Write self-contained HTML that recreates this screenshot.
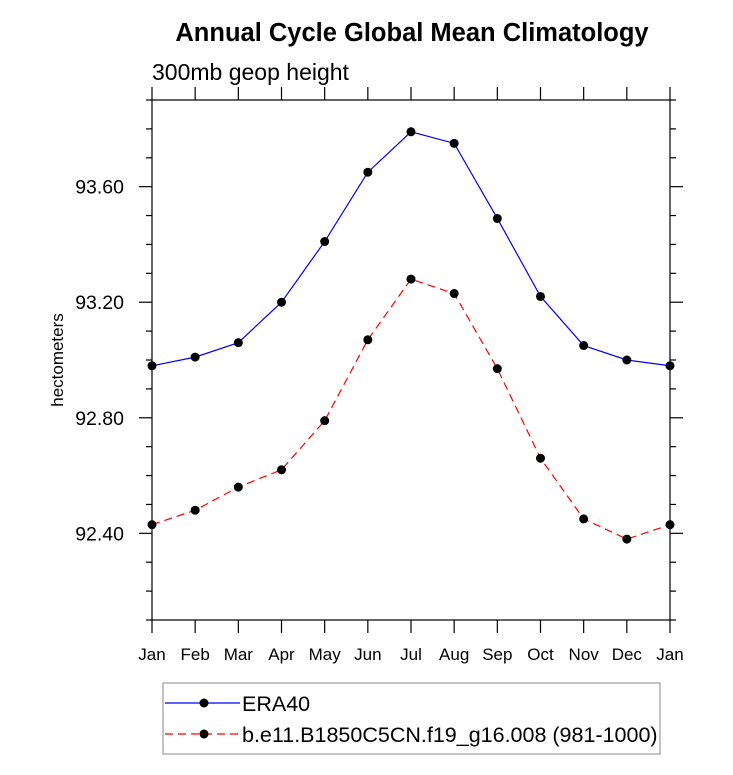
<!DOCTYPE html>
<html><head><meta charset="utf-8"><style>
html,body{margin:0;padding:0;background:#fff}
svg text{font-family:"Liberation Sans",sans-serif}
</style></head><body>
<svg id="chart" width="733" height="770" xmlns="http://www.w3.org/2000/svg">
<text x="412" y="41" text-anchor="middle" font-size="25.5" font-weight="bold">Annual Cycle Global Mean Climatology</text>
<text x="152" y="80" font-size="23">300mb geop height</text>
<text transform="translate(63,360) rotate(-90)" text-anchor="middle" font-size="17">hectometers</text>
<rect x="152" y="100" width="518" height="520" fill="none" stroke="#000" stroke-width="1.2"/>
<g id="axes"></g><g id="series"></g>
<rect x="163" y="683" width="497" height="71" fill="none" stroke="#888" stroke-width="1"/>
<g>
<line x1="165" y1="703" x2="240" y2="703" stroke="#0000ff" stroke-width="1.2"/>
<circle cx="204" cy="703" r="4.5"/>
<text x="242" y="711" font-size="21.5">ERA40</text></g>
<g>
<line x1="165" y1="734" x2="240" y2="734" stroke="#ff0000" stroke-width="1.2" stroke-dasharray="8,5"/>
<circle cx="204" cy="734" r="4.5"/>
<text x="242" y="742" font-size="21.5">b.e11.B1850C5CN.f19_g16.008 (981-1000)</text></g>
</svg>
<script>
const months=["Jan","Feb","Mar","Apr","May","Jun","Jul","Aug","Sep","Oct","Nov","Dec","Jan"];
const era40=[92.98,93.01,93.06,93.20,93.41,93.65,93.79,93.75,93.49,93.22,93.05,93.00,92.98];
const model=[92.43,92.48,92.56,92.62,92.79,93.07,93.28,93.23,92.97,92.66,92.45,92.38,92.43];
const yTicks=[92.40,92.80,93.20,93.60];
const yMin=92.1,yMax=93.9;
const NS="http://www.w3.org/2000/svg";
const L=152,R=670,T=100,B=620;
const xs=i=>L+(R-L)*i/(months.length-1);
const ys=v=>B-(v-yMin)/(yMax-yMin)*(B-T);
function mk(tag,attrs,parent){const e=document.createElementNS(NS,tag);for(const k in attrs)e.setAttribute(k,attrs[k]);parent.appendChild(e);return e;}
const ax=document.getElementById('axes');
months.forEach((m,i)=>{
 const x=xs(i);
 mk('line',{x1:x,y1:B,x2:x,y2:B+13,stroke:'#000','stroke-width':1.2},ax);
 mk('line',{x1:x,y1:T,x2:x,y2:T-13,stroke:'#000','stroke-width':1.2},ax);
 const t=mk('text',{x:x,y:B+40,'text-anchor':'middle','font-size':17},ax);
 
 
 t.textContent=m;
});
for(let v=yMin;v<=yMax+1e-6;v+=0.1){
 const y=ys(v);const major=yTicks.some(t=>Math.abs(t-v)<1e-6);const len=major?13:6;
 mk('line',{x1:L,y1:y,x2:L-len,y2:y,stroke:'#000','stroke-width':1.2},ax);
 mk('line',{x1:R,y1:y,x2:R+len,y2:y,stroke:'#000','stroke-width':1.2},ax);
}
yTicks.forEach(v=>{
 const t=mk('text',{x:L-28,y:ys(v)+7,'text-anchor':'end','font-size':19.5},ax);
 
 
 t.textContent=v.toFixed(2);
});
const sg=document.getElementById('series');
function series(vals,color,dash,name){
 const g=mk('g',{},sg);
 
 
 const pl=mk('polyline',{points:vals.map((v,i)=>xs(i)+','+ys(v)).join(' '),fill:'none',stroke:color,'stroke-width':1.2},g);
 if(dash)pl.setAttribute('stroke-dasharray',dash);
 vals.forEach((v,i)=>{const c=mk('circle',{cx:xs(i),cy:ys(v),r:4.5},g);
  
  });
}
series(era40,'#0000ff',null,'era40-line');
series(model,'#ff0000','8,5','model-line');
</script>
</body></html>
